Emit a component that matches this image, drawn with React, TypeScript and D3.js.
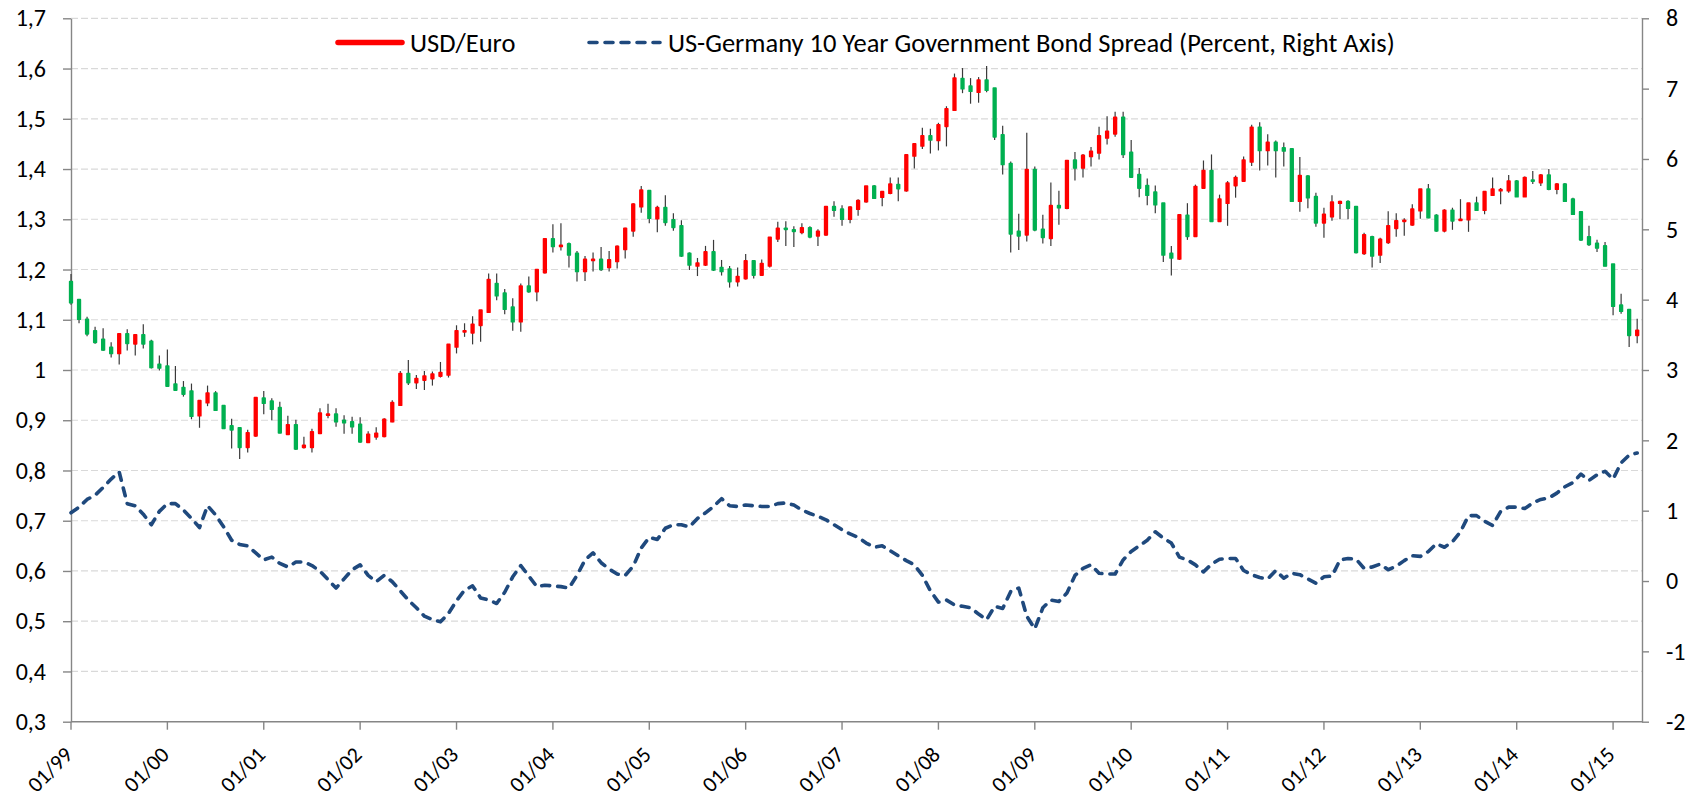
import { useEffect, useRef } from "react";
import * as d3 from "d3";

// monthly USD/Euro candles, 01/1999 .. 04/2015
const openVals = [
  1.176, 1.14, 1.101, 1.078, 1.061, 1.045, 1.033, 1.072, 1.052, 1.07,
  1.057, 1.011, 1.008, 0.972, 0.965, 0.958, 0.909, 0.935, 0.954, 0.929,
  0.889, 0.885, 0.846, 0.869, 0.944, 0.938, 0.925, 0.872, 0.891, 0.846,
  0.846, 0.874, 0.91, 0.912, 0.9, 0.897, 0.892, 0.856, 0.867, 0.868,
  0.897, 0.93, 0.993, 0.975, 0.98, 0.983, 0.988, 0.99, 1.046, 1.076,
  1.074, 1.089, 1.115, 1.172, 1.153, 1.125, 1.096, 1.167, 1.156, 1.194,
  1.261, 1.246, 1.251, 1.232, 1.196, 1.218, 1.22, 1.204, 1.216, 1.24,
  1.277, 1.325, 1.357, 1.301, 1.323, 1.299, 1.287, 1.232, 1.207, 1.209,
  1.235, 1.204, 1.201, 1.176, 1.182, 1.217, 1.189, 1.207, 1.261, 1.282,
  1.279, 1.274, 1.283, 1.267, 1.269, 1.325, 1.32, 1.3, 1.32, 1.335,
  1.366, 1.344, 1.352, 1.369, 1.357, 1.426, 1.446, 1.466, 1.457, 1.485,
  1.517, 1.58, 1.565, 1.553, 1.577, 1.561, 1.468, 1.411, 1.276, 1.269,
  1.399, 1.28, 1.262, 1.327, 1.322, 1.418, 1.402, 1.425, 1.432, 1.462,
  1.47, 1.503, 1.433, 1.389, 1.367, 1.354, 1.332, 1.232, 1.221, 1.308,
  1.266, 1.362, 1.397, 1.296, 1.332, 1.367, 1.376, 1.414, 1.483, 1.437,
  1.453, 1.442, 1.44, 1.336, 1.386, 1.345, 1.293, 1.305, 1.332, 1.335,
  1.325, 1.232, 1.265, 1.229, 1.254, 1.282, 1.296, 1.289, 1.317, 1.36,
  1.308, 1.277, 1.318, 1.298, 1.299, 1.332, 1.318, 1.348, 1.357, 1.357,
  1.376, 1.345, 1.378, 1.373, 1.388, 1.36, 1.37, 1.34, 1.315, 1.265,
  1.252, 1.247, 1.211, 1.129, 1.12, 1.069,
];
const highVals = [
  1.191, 1.14, 1.106, 1.086, 1.083, 1.055, 1.072, 1.081, 1.07, 1.091,
  1.06, 1.029, 1.041, 1.008, 0.978, 0.973, 0.939, 0.969, 0.958, 0.929,
  0.903, 0.885, 0.881, 0.945, 0.958, 0.944, 0.937, 0.909, 0.901, 0.867,
  0.883, 0.924, 0.933, 0.924, 0.91, 0.907, 0.906, 0.878, 0.886, 0.904,
  0.94, 0.998, 1.02, 0.99, 0.998, 0.997, 1.016, 1.051, 1.089, 1.093,
  1.107, 1.119, 1.192, 1.192, 1.161, 1.143, 1.172, 1.186, 1.2, 1.262,
  1.29, 1.292, 1.254, 1.237, 1.227, 1.234, 1.245, 1.237, 1.248, 1.283,
  1.332, 1.366, 1.357, 1.327, 1.348, 1.312, 1.298, 1.234, 1.223, 1.247,
  1.259, 1.219, 1.207, 1.204, 1.231, 1.219, 1.22, 1.264, 1.295, 1.296,
  1.286, 1.292, 1.286, 1.28, 1.326, 1.336, 1.328, 1.326, 1.34, 1.366,
  1.368, 1.356, 1.383, 1.383, 1.43, 1.451, 1.482, 1.48, 1.492, 1.525,
  1.59, 1.601, 1.581, 1.583, 1.605, 1.561, 1.486, 1.415, 1.311, 1.472,
  1.405, 1.309, 1.373, 1.357, 1.417, 1.434, 1.43, 1.444, 1.484, 1.505,
  1.514, 1.514, 1.458, 1.402, 1.381, 1.367, 1.332, 1.247, 1.309, 1.332,
  1.369, 1.417, 1.429, 1.349, 1.376, 1.387, 1.425, 1.488, 1.493, 1.469,
  1.457, 1.453, 1.44, 1.424, 1.388, 1.353, 1.323, 1.348, 1.337, 1.338,
  1.326, 1.273, 1.267, 1.263, 1.316, 1.312, 1.302, 1.33, 1.36, 1.37,
  1.31, 1.32, 1.323, 1.34, 1.332, 1.345, 1.355, 1.383, 1.362, 1.388,
  1.378, 1.385, 1.396, 1.39, 1.4, 1.372, 1.372, 1.343, 1.316, 1.287,
  1.259, 1.255, 1.211, 1.152, 1.12, 1.102,
];
const lowVals = [
  1.13, 1.093, 1.067, 1.052, 1.038, 1.025, 1.011, 1.039, 1.029, 1.043,
  1.003, 0.999, 0.967, 0.96, 0.947, 0.902, 0.885, 0.928, 0.919, 0.883,
  0.844, 0.823, 0.836, 0.867, 0.912, 0.9, 0.874, 0.871, 0.841, 0.844,
  0.836, 0.873, 0.904, 0.887, 0.873, 0.873, 0.855, 0.856, 0.861, 0.866,
  0.896, 0.929, 0.97, 0.962, 0.96, 0.969, 0.985, 0.985, 1.033, 1.066,
  1.051, 1.056, 1.115, 1.139, 1.111, 1.078, 1.076, 1.154, 1.137, 1.192,
  1.234, 1.238, 1.204, 1.176, 1.177, 1.196, 1.197, 1.196, 1.202, 1.222,
  1.265, 1.313, 1.292, 1.274, 1.287, 1.277, 1.225, 1.199, 1.187, 1.207,
  1.197, 1.188, 1.164, 1.166, 1.18, 1.182, 1.187, 1.204, 1.255, 1.247,
  1.245, 1.27, 1.262, 1.247, 1.267, 1.305, 1.287, 1.292, 1.307, 1.333,
  1.342, 1.326, 1.35, 1.336, 1.355, 1.401, 1.44, 1.431, 1.437, 1.445,
  1.516, 1.551, 1.53, 1.532, 1.553, 1.458, 1.389, 1.234, 1.239, 1.256,
  1.276, 1.252, 1.247, 1.289, 1.32, 1.377, 1.383, 1.405, 1.419, 1.449,
  1.464, 1.422, 1.382, 1.344, 1.328, 1.312, 1.215, 1.188, 1.219, 1.259,
  1.265, 1.361, 1.296, 1.296, 1.287, 1.343, 1.374, 1.406, 1.397, 1.407,
  1.383, 1.405, 1.335, 1.315, 1.322, 1.285, 1.263, 1.297, 1.3, 1.3,
  1.232, 1.229, 1.204, 1.213, 1.251, 1.265, 1.267, 1.287, 1.301, 1.302,
  1.275, 1.274, 1.279, 1.297, 1.275, 1.317, 1.31, 1.348, 1.33, 1.353,
  1.345, 1.345, 1.37, 1.366, 1.358, 1.35, 1.335, 1.309, 1.257, 1.247,
  1.235, 1.206, 1.109, 1.112, 1.046, 1.053,
];
const closeVals = [
  1.134, 1.101, 1.072, 1.055, 1.04, 1.033, 1.072, 1.053, 1.07, 1.052,
  1.005, 1.004, 0.968, 0.96, 0.952, 0.908, 0.939, 0.954, 0.92, 0.884,
  0.881, 0.846, 0.875, 0.945, 0.934, 0.922, 0.875, 0.891, 0.843, 0.85,
  0.877, 0.914, 0.912, 0.897, 0.895, 0.887, 0.857, 0.872, 0.874, 0.902,
  0.935, 0.993, 0.975, 0.983, 0.988, 0.992, 0.995, 1.051, 1.078, 1.078,
  1.091, 1.119, 1.18, 1.148, 1.121, 1.096, 1.167, 1.156, 1.2, 1.261,
  1.246, 1.248, 1.229, 1.196, 1.22, 1.22, 1.2, 1.219, 1.246, 1.282,
  1.33, 1.358, 1.302, 1.323, 1.294, 1.284, 1.227, 1.209, 1.213, 1.235,
  1.199, 1.196, 1.176, 1.186, 1.217, 1.189, 1.212, 1.264, 1.282, 1.28,
  1.276, 1.283, 1.265, 1.276, 1.325, 1.318, 1.3, 1.324, 1.337, 1.366,
  1.342, 1.355, 1.37, 1.361, 1.428, 1.45, 1.466, 1.458, 1.488, 1.52,
  1.581, 1.56, 1.555, 1.577, 1.557, 1.464, 1.409, 1.271, 1.267, 1.399,
  1.279, 1.264, 1.327, 1.323, 1.417, 1.402, 1.427, 1.435, 1.466, 1.475,
  1.503, 1.429, 1.384, 1.362, 1.348, 1.329, 1.229, 1.223, 1.309, 1.266,
  1.365, 1.397, 1.296, 1.34, 1.372, 1.383, 1.418, 1.483, 1.437, 1.453,
  1.437, 1.436, 1.336, 1.387, 1.343, 1.293, 1.31, 1.334, 1.335, 1.322,
  1.234, 1.269, 1.227, 1.26, 1.287, 1.297, 1.298, 1.32, 1.36, 1.303,
  1.277, 1.318, 1.297, 1.3, 1.332, 1.318, 1.355, 1.36, 1.359, 1.376,
  1.345, 1.383, 1.376, 1.388, 1.36, 1.37, 1.336, 1.31, 1.259, 1.25,
  1.243, 1.207, 1.127, 1.117, 1.069, 1.079,
];
// US-Germany 10y spread, percent (right axis)
const spreadVals = [
  0.97, 1.05, 1.16, 1.22, 1.33, 1.45, 1.55, 1.1, 1.07, 0.95,
  0.8, 0.99, 1.1, 1.1, 1.01, 0.89, 0.76, 1.07, 0.94, 0.77,
  0.58, 0.52, 0.5, 0.4, 0.3, 0.34, 0.25, 0.2, 0.27, 0.27,
  0.22, 0.14, 0.02, -0.1, 0.03, 0.16, 0.23, 0.08, -0.01, 0.08,
  -0.01, -0.14, -0.27, -0.38, -0.5, -0.55, -0.58, -0.46, -0.28, -0.13,
  -0.07, -0.24, -0.27, -0.32, -0.16, 0.06, 0.22, 0.07, -0.08, -0.06,
  -0.07, -0.08, -0.1, 0.08, 0.3, 0.4, 0.26, 0.17, 0.1, 0.08,
  0.21, 0.47, 0.62, 0.59, 0.75, 0.8, 0.8, 0.77, 0.89, 0.97,
  1.06, 1.17, 1.07, 1.06, 1.08, 1.07, 1.06, 1.06, 1.1, 1.11,
  1.08, 1.01, 0.96, 0.92, 0.87, 0.8, 0.73, 0.67, 0.62, 0.54,
  0.48, 0.5, 0.43, 0.36, 0.29, 0.23, 0.08, -0.14, -0.3, -0.27,
  -0.34, -0.36, -0.38, -0.47, -0.55, -0.36, -0.39, -0.15, -0.1, -0.5,
  -0.68, -0.38, -0.27, -0.29, -0.17, 0.08, 0.18, 0.23, 0.11, 0.1,
  0.1, 0.3, 0.42, 0.5, 0.58, 0.7, 0.61, 0.54, 0.34, 0.3,
  0.23, 0.13, 0.24, 0.31, 0.32, 0.32, 0.15, 0.09, 0.05, 0.03,
  0.15, 0.04, 0.11, 0.09, 0.03, -0.03, 0.06, 0.07, 0.3, 0.32,
  0.31, 0.18, 0.2, 0.24, 0.16, 0.21, 0.29, 0.36, 0.35, 0.42,
  0.53, 0.48, 0.56, 0.7, 0.93, 0.93, 0.85, 0.79, 0.99, 1.05,
  1.05, 1.03, 1.11, 1.16, 1.18, 1.25, 1.34, 1.4, 1.52, 1.43,
  1.51, 1.56, 1.45, 1.68, 1.79, 1.82,
];
const yearLabels = [
  "01/99", "01/00", "01/01", "01/02", "01/03", "01/04", "01/05", "01/06", "01/07",
  "01/08", "01/09", "01/10", "01/11", "01/12", "01/13", "01/14", "01/15",
];
const leftTicks = [0.3, 0.4, 0.5, 0.6, 0.7, 0.8, 0.9, 1, 1.1, 1.2, 1.3, 1.4, 1.5, 1.6, 1.7];
const rightTicks = [-2, -1, 0, 1, 2, 3, 4, 5, 6, 7, 8];
const seriesNames = ["USD/Euro", "US-Germany 10 Year Government Bond Spread (Percent, Right Axis)"];

const FONT = "Carlito, Calibri, Lato, sans-serif";
const UP = "#FF0000";
const DOWN = "#00B050";
const BLUE = "#1F497D";
const AXIS = "#868686";

export default function App() {
  const ref = useRef<SVGSVGElement>(null);

  useEffect(() => {
    const svg = d3.select(ref.current);
    svg.selectAll("*").remove();

    const left = 71, right = 1642, top = 18.3, bottom = 721.7;

    const x = d3.scaleLinear().domain([0, 195.6]).range([left, right]);
    const yL = d3.scaleLinear().domain([0.3, 1.7]).range([bottom, top]);
    const yR = d3.scaleLinear().domain([-2, 8]).range([bottom, top]);

    const fmt = (d: number) => String(Math.round(d * 10) / 10).replace(".", ",");

    // gridlines
    svg.append("g")
      .selectAll("line")
      .data(leftTicks.slice(1))
      .enter()
      .append("line")
      .attr("x1", left)
      .attr("x2", right)
      .attr("y1", (d) => yL(d))
      .attr("y2", (d) => yL(d))
      .attr("stroke", "#D9D9D9")
      .attr("stroke-width", 1.2)
      .attr("stroke-dasharray", "7,3");

    // left axis
    const gl = svg.append("g")
      .attr("transform", `translate(${left},0)`)
      .call(d3.axisLeft(yL).tickValues(leftTicks).tickSize(8).tickSizeOuter(0).tickPadding(17).tickFormat((d) => fmt(+d)));
    // right axis
    const gr = svg.append("g")
      .attr("transform", `translate(${right},0)`)
      .call(d3.axisRight(yR).tickValues(rightTicks).tickSize(7).tickSizeOuter(0).tickPadding(17).tickFormat((d) => String(d)));
    [gl, gr].forEach((g) => {
      g.selectAll("path").attr("stroke", AXIS).attr("stroke-width", 1.4);
      g.selectAll("line").attr("stroke", AXIS).attr("stroke-width", 1.4);
      g.selectAll("text").attr("fill", "#000").style("font-family", FONT).style("font-size", "24px");
    });

    // bottom axis
    const gb = svg.append("g");
    gb.append("line")
      .attr("x1", left).attr("x2", right)
      .attr("y1", bottom).attr("y2", bottom)
      .attr("stroke", AXIS).attr("stroke-width", 1.4);
    const yearTicks = gb.selectAll("g.tick")
      .data(yearLabels)
      .enter()
      .append("g")
      .attr("class", "tick");
    yearTicks.append("line")
      .attr("x1", (_, i) => x(i * 12))
      .attr("x2", (_, i) => x(i * 12))
      .attr("y1", bottom)
      .attr("y2", bottom + 8)
      .attr("stroke", AXIS)
      .attr("stroke-width", 1.4);
    yearTicks.append("text")
      .attr("transform", (_, i) => `translate(${x(i * 12) + 3},756) rotate(-45)`)
      .attr("text-anchor", "end")
      .style("font-family", FONT)
      .style("font-size", "22px")
      .text((d) => d);

    // spread line
    const line = d3.line<number>()
      .x((_, i) => x(i))
      .y((d) => yR(d));
    svg.append("path")
      .datum(spreadVals)
      .attr("d", line)
      .attr("fill", "none")
      .attr("stroke", BLUE)
      .attr("stroke-width", 3.6)
      .attr("stroke-linecap", "round")
      .attr("stroke-linejoin", "round")
      .attr("stroke-dasharray", "8,8");

    // candles
    const candles = openVals.map((o, i) => ({
      i,
      o,
      h: highVals[i],
      l: lowVals[i],
      c: closeVals[i],
    }));
    const cg = svg.append("g");
    cg.selectAll("line")
      .data(candles)
      .enter()
      .append("line")
      .attr("x1", (d) => x(d.i))
      .attr("x2", (d) => x(d.i))
      .attr("y1", (d) => yL(d.h))
      .attr("y2", (d) => yL(d.l))
      .attr("stroke", "#3a3a3a")
      .attr("stroke-width", 1.2);
    cg.selectAll("rect")
      .data(candles)
      .enter()
      .append("rect")
      .attr("x", (d) => x(d.i) - 1.3)
      .attr("width", 2.6)
      .attr("y", (d) => yL(Math.max(d.o, d.c)))
      .attr("height", (d) => Math.max(Math.abs(yL(d.o) - yL(d.c)), 0.5))
      .attr("fill", (d) => (d.c >= d.o ? UP : DOWN))
      .attr("stroke", (d) => (d.c >= d.o ? UP : DOWN))
      .attr("stroke-width", 1.7)
      .attr("stroke-linejoin", "round");

    // legend
    const lg = svg.append("g").style("font-family", FONT).style("font-size", "26.5px");
    lg.append("line")
      .attr("x1", 338).attr("x2", 402).attr("y1", 42.5).attr("y2", 42.5)
      .attr("stroke", UP).attr("stroke-width", 5.5).attr("stroke-linecap", "round");
    lg.append("text").attr("x", 410).attr("y", 42.5).attr("dy", "0.35em").text(seriesNames[0]);
    lg.append("line")
      .attr("x1", 589).attr("x2", 660).attr("y1", 42.5).attr("y2", 42.5)
      .attr("stroke", BLUE).attr("stroke-width", 3.6)
      .attr("stroke-linecap", "round").attr("stroke-dasharray", "8,8");
    lg.append("text").attr("x", 668).attr("y", 42.5).attr("dy", "0.35em").text(seriesNames[1]);
  }, []);

  return (
    <div style={{ position: "absolute", left: 0, top: 0, background: "#fff" }}>
      <svg ref={ref} width={1700} height={805} />
    </div>
  );
}
